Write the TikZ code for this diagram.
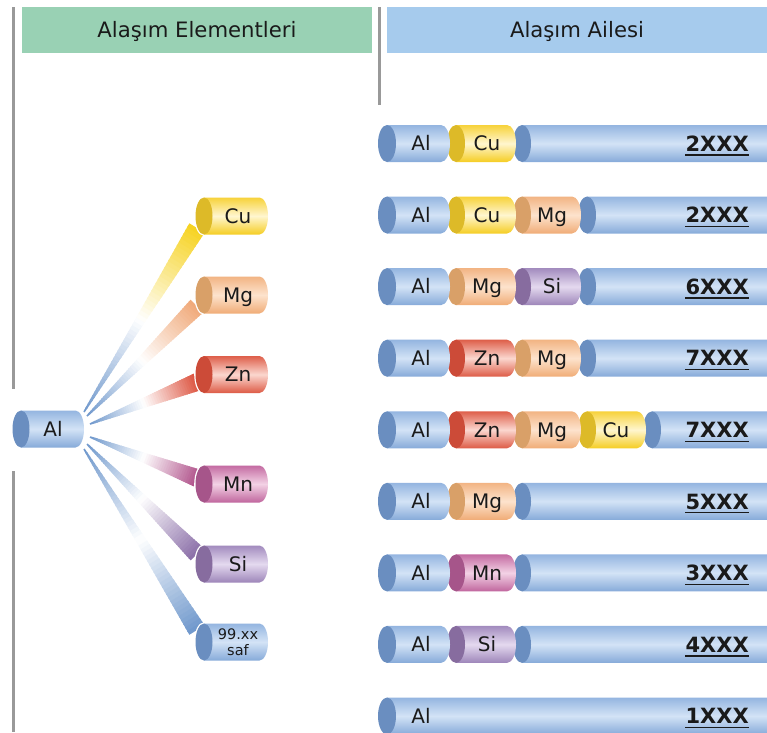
\documentclass[tikz,border=0pt]{standalone}
\usepackage{fontspec}
\setmainfont{DejaVu Sans}
\usetikzlibrary{calc}
\definecolor{hdrgreen}{HTML}{99D1B4}
\definecolor{hdrblue}{HTML}{A6CBED}
\definecolor{rulegray}{HTML}{999999}
\definecolor{txt}{HTML}{1A1A1A}
\definecolor{alcap}{HTML}{6A8EC0}\definecolor{altop}{HTML}{94B5E0}\definecolor{almid}{HTML}{D3E3F6}\definecolor{albot}{HTML}{86AAD9}
\definecolor{cucap}{HTML}{DDBA28}\definecolor{cutop}{HTML}{F7D23A}\definecolor{cumid}{HTML}{FFF6CF}\definecolor{cubot}{HTML}{F5CD22}
\definecolor{mgcap}{HTML}{D9A068}\definecolor{mgtop}{HTML}{F2B483}\definecolor{mgmid}{HTML}{FDE3CD}\definecolor{mgbot}{HTML}{F0AC76}
\definecolor{zncap}{HTML}{CC4B38}\definecolor{zntop}{HTML}{DE5F4A}\definecolor{znmid}{HTML}{FBD7CF}\definecolor{znbot}{HTML}{DD5A45}
\definecolor{mncap}{HTML}{A6558A}\definecolor{mntop}{HTML}{C46BA2}\definecolor{mnmid}{HTML}{F3D2E5}\definecolor{mnbot}{HTML}{C0659D}
\definecolor{sicap}{HTML}{876C9F}\definecolor{sitop}{HTML}{A28BBE}\definecolor{simid}{HTML}{E4D9EF}\definecolor{sibot}{HTML}{9D85B9}
\definecolor{wAl}{HTML}{6E97CC}
\definecolor{wCu}{HTML}{F6D21E}
\definecolor{wMg}{HTML}{F0A878}
\definecolor{wZn}{HTML}{DD5440}
\definecolor{wMn}{HTML}{B1548C}
\definecolor{wSi}{HTML}{8B6FA8}
% cylinder segment: #1 cap centre x, #2 centre y, #3 right extreme x, #4 cap x radius, #5 colour prefix
\newcommand\cylseg[5]{%
  \shade[top color=#5top, bottom color=#5bot, middle color=#5mid]
    (#1,#2-18.5) -- (#3-#4,#2-18.5)
    arc[start angle=-90,end angle=90,x radius=#4,y radius=18.5]
    -- (#1,#2+18.5) -- cycle;
  \fill[#5cap] (#1,#2) ellipse[x radius=#4, y radius=18.5];
}
% free standing cylinder with a white rim
\newcommand\fancyl[4]{%
  \path[fill=white,draw=white,line width=2.6pt]
    (#1,#2-18.5) -- (#3-8.5,#2-18.5)
    arc[start angle=-90,end angle=90,x radius=8.5,y radius=18.5]
    -- (#1,#2+18.5)
    arc[start angle=90,end angle=270,x radius=8.5,y radius=18.5] -- cycle;
  \cylseg{#1}{#2}{#3}{8.5}{#4}
}
% fading wedge from #1 to #2 in colour #3
\newcommand\fanwedge[3]{%
  \coordinate (wA1) at ($(#1)!0.8pt!90:(#2)$);
  \coordinate (wA2) at ($(#1)!0.8pt!-90:(#2)$);
  \coordinate (wB1) at ($(#2)!9pt!-90:(#1)$);
  \coordinate (wB2) at ($(#2)!9pt!90:(#1)$);
  \foreach \k in {0,...,49}{%
    \pgfmathsetmacro\ta{\k/50}%
    \pgfmathsetmacro\tb{min(1,(\k+1.4)/50)}%
    \pgfmathsetmacro\tm{(\k+0.5)/50}%
    \pgfmathsetmacro\pb{max(0,100*(1-\tm/0.5))}%
    \pgfmathsetmacro\pc{max(0,100*(\tm-0.5)/0.5)}%
    \ifdim\tm pt<0.5pt \colorlet{wcur}{wAl!\pb!white}\else\colorlet{wcur}{#3!\pc!white}\fi
    \fill[fill=wcur] ($(wA1)!\ta!(wB1)$) -- ($(wA1)!\tb!(wB1)$) -- ($(wA2)!\tb!(wB2)$) -- ($(wA2)!\ta!(wB2)$) -- cycle;
  }%
}
\tikzset{
  lab/.style={font=\fontsize{20}{21}\selectfont, text=txt, inner sep=0pt, text height=14.6pt, text depth=0pt},
  hdrtext/.style={font=\fontsize{21.2}{22}\selectfont, text=txt, inner sep=0pt, text height=15.4pt, text depth=0pt, minimum height=46, anchor=center},
  famlab/.style={font=\fontsize{21}{22}\selectfont\bfseries, text=txt, inner sep=0pt, anchor=base east},
  uline/.style={txt, line width=1.3pt},
  grayrule/.style={rulegray, line width=3pt},
  smalllab/.style={font=\fontsize{14.5}{15.5}\selectfont, text=txt, inner sep=0pt, align=center},
}
\begin{document}
\begin{tikzpicture}[x=1pt,y=-1pt]
\useasboundingbox (0,0) rectangle (767,732);
\clip (0,0) rectangle (767,732);
% headers
\node[hdrtext, fill=hdrgreen, minimum width=350] (hdrA) at (197,30) {Alaşım Elementleri};
\node[hdrtext, fill=hdrblue, minimum width=380] (hdrB) at (577,30) {Alaşım Ailesi};
% gray rules
\draw[grayrule] (13,7) -- (13,389);
\draw[grayrule] (13,471) -- (13,732);
\draw[grayrule] (379,7) -- (379,105);
% wedges
\coordinate (sCu) at (84,412);  \coordinate (tCu) at (197,228);
\coordinate (sMg) at (87,416);  \coordinate (tMg) at (197,306);
\coordinate (sZn) at (90,424);  \coordinate (tZn) at (197,382);
\coordinate (sMn) at (90,437);  \coordinate (tMn) at (197,478);
\coordinate (sSi) at (87,444);  \coordinate (tSi) at (197,554);
\coordinate (sSf) at (84,449);  \coordinate (tSf) at (197,630);
\fanwedge{sCu}{tCu}{wCu}
\fanwedge{sMg}{tMg}{wMg}
\fanwedge{sZn}{tZn}{wZn}
\fanwedge{sMn}{tMn}{wMn}
\fanwedge{sSi}{tSi}{wSi}
\fanwedge{sSf}{tSf}{wAl}
% element cylinders
\fancyl{204}{216}{268}{cu}   \node[lab] (eCu) at (238,216) {Cu};
\fancyl{204}{295}{268}{mg}   \node[lab] (eMg) at (238,295) {Mg};
\fancyl{204}{374.5}{268}{zn} \node[lab] (eZn) at (238,374.5) {Zn};
\fancyl{204}{484}{268}{mn}   \node[lab] (eMn) at (238,484) {Mn};
\fancyl{204}{564}{268}{si}   \node[lab] (eSi) at (238,564) {Si};
\fancyl{204}{642}{268}{al}   \node[smalllab] (eSf) at (238,642) {99.xx\\saf};
% source Al
\fancyl{21}{429}{84}{al}     \node[lab] (eAl) at (53,429) {Al};
% family bars
% row 1
\cylseg{522}{143.5}{800}{9}{al}\cylseg{456}{143.5}{516}{9}{cu}\cylseg{387}{143.5}{450}{9}{al}
\node[lab] (r1a) at (421,143.5) {Al}; \node[lab] (r1b) at (487,143.5) {Cu};
\node[famlab] (r1l) at (749,151.2) {2XXX};
% row 2
\cylseg{587}{215}{800}{9}{al}\cylseg{522}{215}{581}{9}{mg}\cylseg{456}{215}{516}{9}{cu}\cylseg{387}{215}{450}{9}{al}
\node[lab] (r2a) at (421,215) {Al}; \node[lab] (r2b) at (487,215) {Cu}; \node[lab] (r2c) at (552,215) {Mg};
\node[famlab] (r2l) at (749,222.7) {2XXX};
% row 3
\cylseg{587}{286.6}{800}{9}{al}\cylseg{522}{286.6}{581}{9}{si}\cylseg{456}{286.6}{516}{9}{mg}\cylseg{387}{286.6}{450}{9}{al}
\node[lab] (r3a) at (421,286.6) {Al}; \node[lab] (r3b) at (487,286.6) {Mg}; \node[lab] (r3c) at (552,286.6) {Si};
\node[famlab] (r3l) at (749,294.3) {6XXX};
% row 4
\cylseg{587}{358.2}{800}{9}{al}\cylseg{522}{358.2}{581}{9}{mg}\cylseg{456}{358.2}{516}{9}{zn}\cylseg{387}{358.2}{450}{9}{al}
\node[lab] (r4a) at (421,358.2) {Al}; \node[lab] (r4b) at (487,358.2) {Zn}; \node[lab] (r4c) at (552,358.2) {Mg};
\node[famlab] (r4l) at (749,365.9) {7XXX};
% row 5
\cylseg{652}{429.8}{800}{9}{al}\cylseg{587}{429.8}{646}{9}{cu}\cylseg{522}{429.8}{581}{9}{mg}\cylseg{456}{429.8}{516}{9}{zn}\cylseg{387}{429.8}{450}{9}{al}
\node[lab] (r5a) at (421,429.8) {Al}; \node[lab] (r5b) at (487,429.8) {Zn}; \node[lab] (r5c) at (552,429.8) {Mg}; \node[lab] (r5d) at (616,429.8) {Cu};
\node[famlab] (r5l) at (749,437.5) {7XXX};
% row 6
\cylseg{522}{501.3}{800}{9}{al}\cylseg{456}{501.3}{516}{9}{mg}\cylseg{387}{501.3}{450}{9}{al}
\node[lab] (r6a) at (421,501.3) {Al}; \node[lab] (r6b) at (487,501.3) {Mg};
\node[famlab] (r6l) at (749,509) {5XXX};
% row 7
\cylseg{522}{572.9}{800}{9}{al}\cylseg{456}{572.9}{516}{9}{mn}\cylseg{387}{572.9}{450}{9}{al}
\node[lab] (r7a) at (421,572.9) {Al}; \node[lab] (r7b) at (487,572.9) {Mn};
\node[famlab] (r7l) at (749,580.6) {3XXX};
% row 8
\cylseg{522}{644.4}{800}{9}{al}\cylseg{456}{644.4}{516}{9}{si}\cylseg{387}{644.4}{450}{9}{al}
\node[lab] (r8a) at (421,644.4) {Al}; \node[lab] (r8b) at (487,644.4) {Si};
\node[famlab] (r8l) at (749,652.1) {4XXX};
% row 9
\cylseg{387}{716}{800}{9}{al}
\node[lab] (r9a) at (421,716) {Al};
\node[famlab] (r9l) at (749,723.7) {1XXX};
% underlines
\foreach \n in {r1l,r2l,r3l,r4l,r5l,r6l,r7l,r8l,r9l}{
  \draw[uline] ([yshift=-3.8pt]\n.base west) -- ([yshift=-3.8pt]\n.base east);
}
\end{tikzpicture}
\end{document}
